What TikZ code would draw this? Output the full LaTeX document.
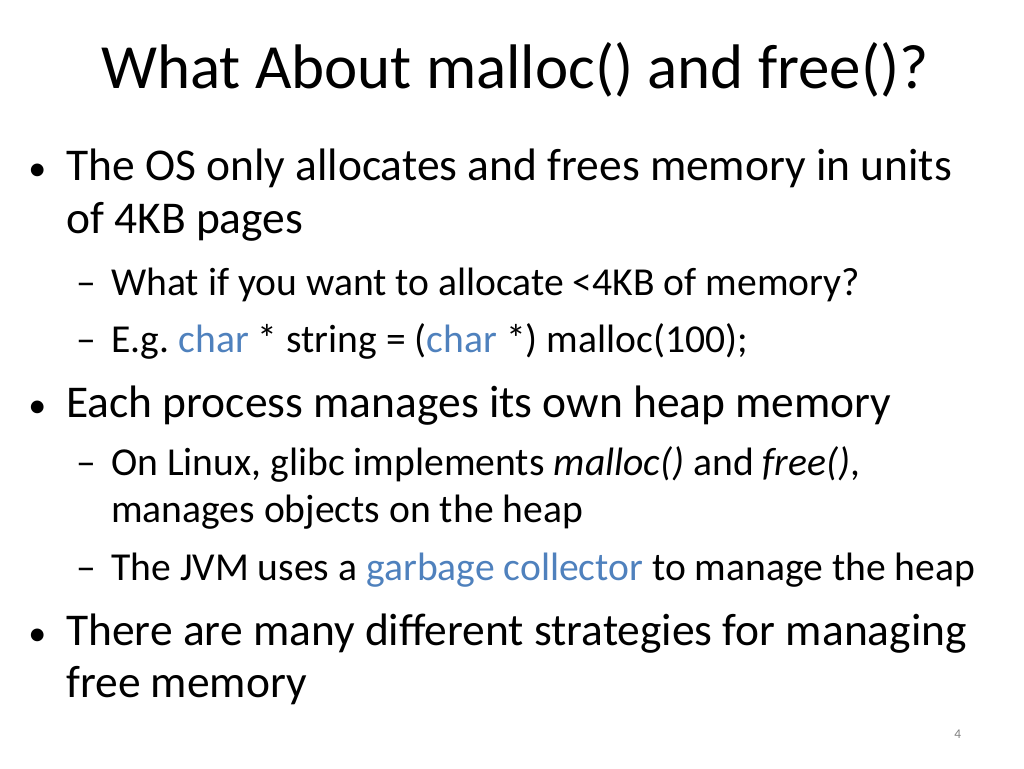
\documentclass[tikz,border=0pt]{standalone}
\usepackage{fontspec}
\setmainfont{Carlito}
\usepackage{tikz}
\frenchspacing
\definecolor{codeblue}{RGB}{79,129,189}
\tikzset{
  titletext/.style={anchor=base west,inner sep=0pt,font=\fontsize{47.2}{50}\selectfont},
  lvlone/.style={anchor=base west,inner sep=0pt,font=\fontsize{34.1}{38}\selectfont},
  lvltwo/.style={anchor=base west,inner sep=0pt,font=\fontsize{29.7}{34}\selectfont},
  bulletmark/.style={anchor=base west,inner sep=0pt,font=\fontsize{27}{30}\selectfont},
}
\begin{document}
\begin{tikzpicture}[x=0.75pt,y=0.75pt,yscale=-1,xscale=1]
        \useasboundingbox (0,0) rectangle (1024,768);

        % Title
        \draw (101,88) node [titletext] (title) {What About malloc() and free()?};

        % First bullet
        \draw (28,180) node [bulletmark] (b1) {•};
        \draw (66,180) node [lvlone] (t1) {The OS only allocates and frees memory in units};
        \draw (66,233) node [lvlone] (t1b) {of 4KB pages};
        \draw (76,295) node [lvltwo] (d1) {–};
        \draw (111,295) node [lvltwo] (s1) {What if you want to allocate <4KB of memory?};
        \draw (76,352) node [lvltwo] (d2) {–};
        \draw (111,352) node [lvltwo] (s2) {E.g. \textcolor{codeblue}{char} * string = (\textcolor{codeblue}{char} *) malloc(100);};

        % Second bullet
        \draw (28,417) node [bulletmark] (b2) {•};
        \draw (66,417) node [lvlone] (t2) {Each process manages its own heap memory};
        \draw (76,475) node [lvltwo] (d3) {–};
        \draw (111,475) node [lvltwo] (s3) {On Linux, glibc implements \textit{malloc()} and \textit{free()},};
        \draw (111,522) node [lvltwo] (s3b) {manages objects on the heap};
        \draw (76,580) node [lvltwo] (d4) {–};
        \draw (111,580) node [lvltwo] (s4) {The JVM uses a \textcolor{codeblue}{garbage collector} to manage the heap};

        % Third bullet
        \draw (28,645) node [bulletmark] (b3) {•};
        \draw (66,645) node [lvlone] (t3) {There are many different strategies for managing};
        \draw (66,697) node [lvlone] (t3b) {free memory};

        % Page number
        \draw (954,738) node [anchor=base west,inner sep=0pt,font=\fontsize{10}{11}\selectfont,text=gray] (pagenum) {4};

    \end{tikzpicture}
\end{document}
